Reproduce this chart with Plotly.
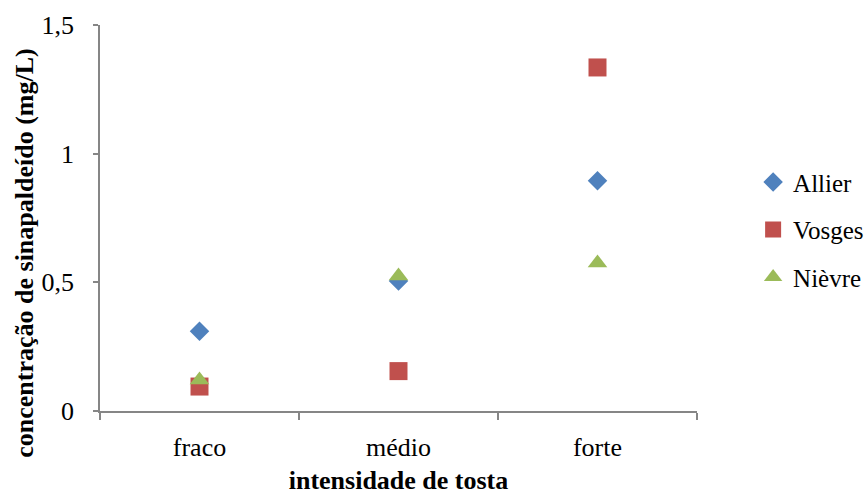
import plotly.graph_objects as go

categories = ["fraco", "médio", "forte"]
allier = [0.31, 0.505, 0.895]
vosges = [0.095, 0.155, 1.335]
nievre = [0.12, 0.525, 0.575]
series_names = ["Allier", "Vosges", "Nièvre"]
y_ticks = [0, 0.5, 1, 1.5]
x_title = "intensidade de tosta"
y_title = "concentração de sinapaldeído (mg/L)"

FONT = "Liberation Serif, Times New Roman, serif"
AXIS_COLOR = "#868686"

fig = go.Figure()
fig.add_trace(go.Scatter(x=categories, y=allier, mode="markers", name=series_names[0],
                         legendgroup="a",
                         marker=dict(symbol="diamond", size=15, color="#4F81BD")))
fig.add_trace(go.Scatter(x=categories, y=vosges, mode="markers", name=series_names[1],
                         legendgroup="b",
                         marker=dict(symbol="square", size=18, color="#C0504D")))
fig.add_trace(go.Scatter(x=categories, y=nievre, mode="markers", name=series_names[2],
                         legendgroup="c",
                         marker=dict(symbol="triangle-up", size=17, color="#9BBB59")))

fig.update_layout(
    width=868, height=495, autosize=False,
    margin=dict(l=100, r=171, t=25, b=84, autoexpand=False),
    paper_bgcolor="white", plot_bgcolor="white",
    separators=",.",
    font=dict(family=FONT, size=25, color="black"),
    legend=dict(x=1.094, xanchor="left", y=0.652, yanchor="top",
                font=dict(family=FONT, size=25, color="black"),
                tracegroupgap=12, itemsizing="trace", bgcolor="rgba(0,0,0,0)"),
    showlegend=True,
    annotations=[dict(text="<b>" + y_title + "</b>", textangle=-90,
                      xref="paper", yref="paper", x=-0.1256, y=0.41,
                      xanchor="center", yanchor="middle", showarrow=False,
                      font=dict(family=FONT, size=26, color="black"))],
)
fig.update_xaxes(
    type="category", range=[-0.5, 2.5],
    showline=True, linecolor=AXIS_COLOR, linewidth=1.5,
    showgrid=False, zeroline=False,
    ticks="outside", tickson="boundaries", ticklen=7, tickcolor=AXIS_COLOR, tickwidth=1.5,
    tickfont=dict(family=FONT, size=26, color="black"),
    ticklabelstandoff=12,
    title=dict(text="<b>" + x_title + "</b>", font=dict(family=FONT, size=26, color="black"), standoff=14),
    automargin=False,
)
fig.update_yaxes(
    range=[0, 1.5], tickvals=y_ticks,
    showline=True, linecolor=AXIS_COLOR, linewidth=1.5,
    showgrid=False, zeroline=False,
    ticks="outside", ticklen=5, tickcolor=AXIS_COLOR, tickwidth=1.5,
    tickfont=dict(family=FONT, size=26, color="black"),
    ticklabelstandoff=14,
    automargin=False,
)

post = ("document.body.style.margin='0';document.body.style.overflow='hidden';"
        "var gd=document.getElementById('{plot_id}');"
        "Plotly.relayout(gd,{width:868,height:495});")
fig.write_html("out.html", config={"responsive": False, "displayModeBar": False}, post_script=post)
